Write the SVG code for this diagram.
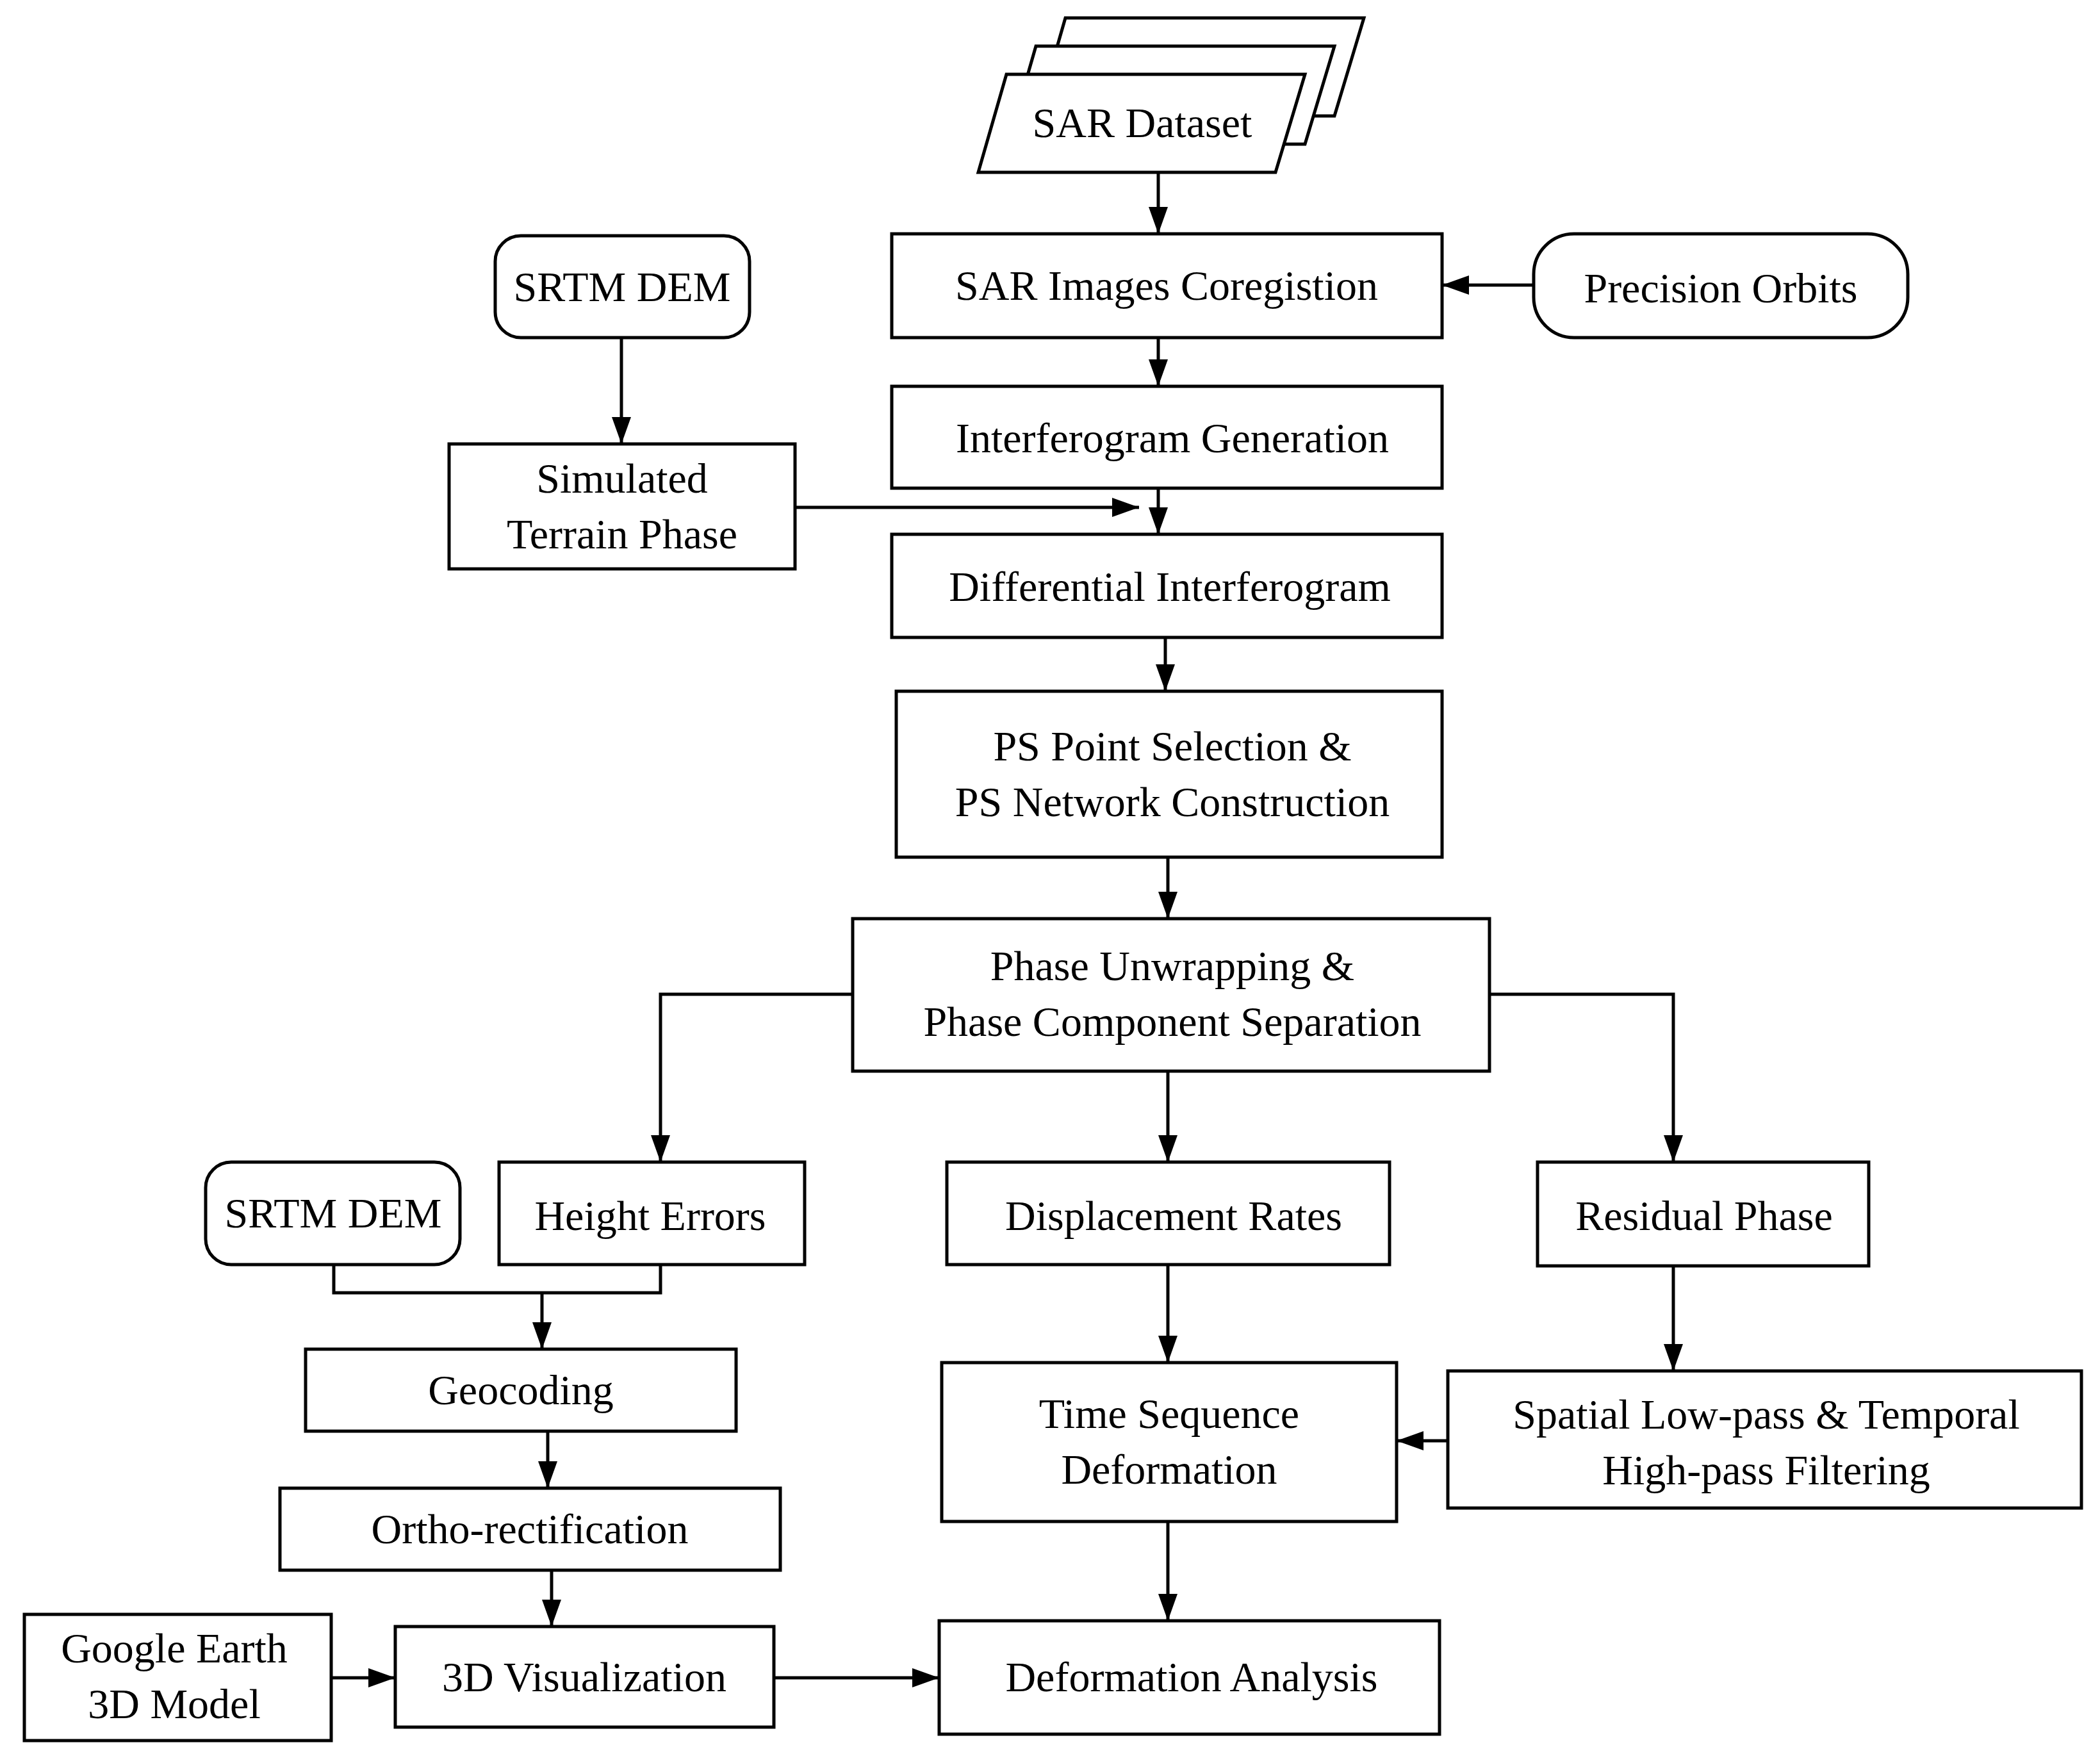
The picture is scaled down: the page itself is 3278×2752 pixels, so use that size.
<svg xmlns="http://www.w3.org/2000/svg" width="3278" height="2752" viewBox="0 0 3278 2752">
<style>
.b{fill:#fff;stroke:#000;stroke-width:5}
.t{font-family:"Liberation Serif",serif;font-size:66px;text-anchor:middle;fill:#000}
.c{fill:none;stroke:#000;stroke-width:5}
</style>
<defs>
<marker id="a" markerUnits="userSpaceOnUse" markerWidth="44" markerHeight="30" refX="42" refY="15" orient="auto"><path d="M0,0 L42,15 L0,30 Z" fill="#000"/></marker>
</defs>
<rect width="3278" height="2752" fill="#fff"/>
<g id="sar">
<path class="b" d="M1663,28 L2129,28 L2083,181 L1619,181 Z"/>
<path class="b" d="M1617,72 L2083,72 L2037,225 L1573,225 Z"/>
<path class="b" d="M1571,116 L2037,116 L1991,269 L1527,269 Z"/>
<text class="t" x="1783" y="214">SAR Dataset</text>
</g>
<g id="coreg"><rect class="b" x="1392" y="365" width="859" height="162"/><text class="t" x="1821" y="468">SAR Images Coregistion</text></g>
<g id="orbits"><rect class="b" x="2394" y="365" width="584" height="162" rx="63"/><text class="t" x="2686" y="472">Precision Orbits</text></g>
<g id="srtm1"><rect class="b" x="773" y="368" width="397" height="159" rx="40"/><text class="t" x="971" y="470">SRTM DEM</text></g>
<g id="interf"><rect class="b" x="1392" y="603" width="859" height="159"/><text class="t" x="1830" y="706">Interferogram Generation</text></g>
<g id="sim"><rect class="b" x="701" y="693" width="540" height="195"/><text class="t" x="971" y="769">Simulated</text><text class="t" x="971" y="856">Terrain Phase</text></g>
<g id="diff"><rect class="b" x="1392" y="834" width="859" height="161"/><text class="t" x="1826" y="938">Differential Interferogram</text></g>
<g id="ps"><rect class="b" x="1399" y="1079" width="852" height="259"/><text class="t" x="1830" y="1187">PS Point Selection &amp;</text><text class="t" x="1830" y="1274">PS Network Construction</text></g>
<g id="phase"><rect class="b" x="1331" y="1434" width="994" height="238"/><text class="t" x="1830" y="1530">Phase Unwrapping &amp;</text><text class="t" x="1830" y="1617">Phase Component Separation</text></g>
<g id="srtm2"><rect class="b" x="321" y="1814" width="397" height="160" rx="40"/><text class="t" x="520" y="1916">SRTM DEM</text></g>
<g id="height"><rect class="b" x="779" y="1814" width="477" height="160"/><text class="t" x="1015" y="1920">Height Errors</text></g>
<g id="disp"><rect class="b" x="1478" y="1814" width="691" height="160"/><text class="t" x="1832" y="1920">Displacement Rates</text></g>
<g id="resid"><rect class="b" x="2400" y="1814" width="517" height="162"/><text class="t" x="2660" y="1920">Residual Phase</text></g>
<g id="geo"><rect class="b" x="477" y="2106" width="672" height="128"/><text class="t" x="813" y="2192">Geocoding</text></g>
<g id="ortho"><rect class="b" x="437" y="2323" width="781" height="128"/><text class="t" x="827" y="2409">Ortho-rectification</text></g>
<g id="google"><rect class="b" x="38" y="2520" width="479" height="197"/><text class="t" x="272" y="2595">Google Earth</text><text class="t" x="272" y="2682">3D Model</text></g>
<g id="vis"><rect class="b" x="617" y="2539" width="591" height="157"/><text class="t" x="912" y="2640">3D Visualization</text></g>
<g id="time"><rect class="b" x="1470" y="2127" width="710" height="248"/><text class="t" x="1825" y="2229">Time Sequence</text><text class="t" x="1825" y="2316">Deformation</text></g>
<g id="spatial"><rect class="b" x="2260" y="2140" width="989" height="214"/><text class="t" x="2757" y="2230">Spatial Low-pass &amp; Temporal</text><text class="t" x="2757" y="2317">High-pass Filtering</text></g>
<g id="deform"><rect class="b" x="1466" y="2530" width="781" height="177"/><text class="t" x="1860" y="2640">Deformation Analysis</text></g>
<g id="connectors">
<path class="c" marker-end="url(#a)" d="M1808,269 L1808,365"/>
<path class="c" marker-end="url(#a)" d="M2394,445 L2251,445"/>
<path class="c" marker-end="url(#a)" d="M1808,527 L1808,603"/>
<path class="c" marker-end="url(#a)" d="M970,527 L970,693"/>
<path class="c" marker-end="url(#a)" d="M1808,762 L1808,834"/>
<path class="c" marker-end="url(#a)" d="M1241,792 L1778,792"/>
<path class="c" marker-end="url(#a)" d="M1819,995 L1819,1079"/>
<path class="c" marker-end="url(#a)" d="M1823,1338 L1823,1434"/>
<path class="c" marker-end="url(#a)" d="M1331,1552 L1031,1552 L1031,1814"/>
<path class="c" marker-end="url(#a)" d="M1823,1672 L1823,1814"/>
<path class="c" marker-end="url(#a)" d="M2325,1552 L2612,1552 L2612,1814"/>
<path class="c" d="M521,1974 L521,2018 L1031,2018 L1031,1974"/>
<path class="c" marker-end="url(#a)" d="M846,2018 L846,2106"/>
<path class="c" marker-end="url(#a)" d="M855,2234 L855,2323"/>
<path class="c" marker-end="url(#a)" d="M861,2451 L861,2539"/>
<path class="c" marker-end="url(#a)" d="M517,2619 L617,2619"/>
<path class="c" marker-end="url(#a)" d="M1208,2619 L1466,2619"/>
<path class="c" marker-end="url(#a)" d="M1823,1974 L1823,2127"/>
<path class="c" marker-end="url(#a)" d="M2612,1976 L2612,2140"/>
<path class="c" marker-end="url(#a)" d="M2260,2249 L2180,2249"/>
<path class="c" marker-end="url(#a)" d="M1823,2375 L1823,2530"/>
</g>
</svg>
